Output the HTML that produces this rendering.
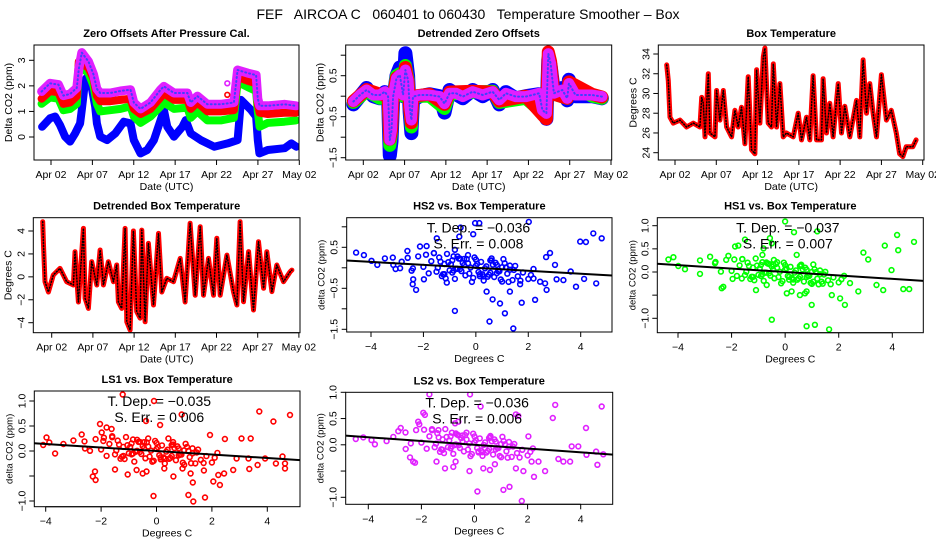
<!DOCTYPE html>
<html><head><meta charset="utf-8"><style>
html,body{margin:0;padding:0;background:#fff;}
svg{display:block;font-family:"Liberation Sans",sans-serif;}
</style></head><body>
<svg id="chart" width="936" height="540" viewBox="0 0 936 540" xmlns="http://www.w3.org/2000/svg">
<rect width="936" height="540" fill="#fff"/>
<text x="468" y="19" text-anchor="middle" font-size="14" style="white-space:pre">FEF   AIRCOA C   060401 to 060430   Temperature Smoother – Box</text>
</svg>
<script>
// ---------- data ----------
const dateTicks=[1,6,11,16,21,26,31];
const dateTickLabels=['Apr 02','Apr 07','Apr 12','Apr 17','Apr 22','Apr 27','May 02'];
const degTicks=[-4,-2,0,2,4];
const degTickLabels=['\u22124','\u22122','0','2','4'];

const zoHS2=[[-0.07,0.40],[0.88,0.73],[1.49,0.80],[2.09,0.47],[2.70,0.01],[3.31,-0.18],[3.91,0.14],[4.52,0.53],[4.72,1.06],[5.13,2.23],[5.53,2.42],[5.94,1.90],[6.34,1.19],[6.55,0.53],[6.95,0.01],[7.76,-0.12],[8.77,0.14],[9.79,0.60],[10.6,0.53],[11.0,-0.12],[11.81,-0.64],[12.62,-0.51],[13.43,-0.12],[14.24,0.66],[14.64,1.06],[15.05,0.40],[15.86,0.01],[16.87,0.40],[17.28,0.66],[17.88,0.14],[19.1,-0.12],[20.72,-0.38],[22.34,-0.25],[23.55,-0.12],[23.96,1.45],[25.17,1.06],[25.78,0.80],[25.98,-0.12],[26.18,-0.64],[27.2,-0.51],[29.22,-0.44],[30.03,-0.25],[30.64,-0.38]];
const zoHS1=[[-0.13,1.3],[0.88,1.55],[1.89,1.5],[2.5,1.05],[3.31,1.1],[4.12,1.3],[4.36,2.75],[4.72,2.7],[5.53,2.5],[6.14,2.0],[6.55,1.3],[6.95,1.0],[8.17,1.05],[9.38,1.1],[10.6,1.2],[11.0,0.8],[11.81,0.55],[13.02,0.8],[14.24,1.2],[14.64,1.35],[15.86,1.1],[17.48,1.15],[17.88,0.75],[18.69,1.0],[19.9,0.65],[21.5,0.65],[23.1,0.75],[23.55,2.15],[24.77,1.95],[25.78,1.8],[25.98,1.0],[26.2,0.4],[27.2,0.55],[29.2,0.6],[30.6,0.65]];
const zoLS1=[[-0.13,1.5],[0.88,1.8],[1.89,1.75],[2.5,1.3],[3.31,1.35],[4.12,1.6],[4.36,2.95],[4.72,2.9],[5.53,2.7],[6.14,2.3],[6.55,1.6],[6.95,1.4],[8.17,1.4],[9.38,1.45],[10.6,1.5],[11.0,1.1],[11.81,0.9],[13.02,1.1],[14.24,1.55],[14.64,1.7],[15.86,1.45],[17.48,1.45],[17.88,1.1],[18.69,1.35],[19.9,1.0],[21.5,1.0],[23.1,1.05],[23.55,2.35],[24.77,2.2],[25.78,2.1],[25.98,1.3],[26.2,0.95],[27.2,0.9],[29.2,0.95],[30.6,0.95]];
const zoLS2=[[-0.13,1.78],[0.88,2.1],[1.89,2.05],[2.5,1.62],[3.31,1.68],[4.12,1.92],[4.36,2.65],[4.72,3.3],[5.53,2.95],[6.14,2.45],[6.55,1.88],[6.95,1.72],[8.17,1.72],[9.38,1.8],[10.6,1.85],[11.0,1.35],[11.81,1.1],[13.02,1.35],[14.24,1.85],[14.64,1.98],[15.86,1.72],[17.48,1.72],[17.88,1.35],[18.69,1.6],[19.9,1.28],[21.5,1.28],[23.1,1.35],[23.55,2.62],[24.77,2.5],[25.78,2.42],[25.98,1.5],[26.2,1.22],[27.2,1.22],[29.2,1.28],[30.6,1.22]];
const zoOutLS2=[[22.3,2.1]];
const zoOutLS1=[[22.3,1.65]];

const dtHS2=[[-0.2,-0.2],[0.6,0.0],[1.4,0.2],[2.2,0.0],[3.0,-0.05],[3.6,0.1],[4.0,0.0],[4.13,-0.9],[4.21,-1.45],[4.41,-1.1],[4.61,-0.1],[5.02,0.5],[5.42,0.7],[5.82,0.0],[6.1,1.05],[6.42,0.5],[6.62,-0.4],[6.82,-0.9],[7.02,-0.1],[7.83,0.0],[9.03,0.05],[10.24,0.0],[10.84,-0.4],[11.44,0.15],[12.24,0.05],[13.05,-0.05],[14.25,0.15],[15.46,0.0],[16.66,0.15],[17.47,-0.2],[18.27,0.1],[19.47,-0.05],[20.68,0.0],[22.29,0.05],[22.69,-0.35],[23.17,-0.55],[23.41,0.9],[23.69,0.75],[24.09,0.1],[25.1,0.2],[25.7,-0.1],[25.9,0.4],[26.7,0.0],[28.7,0.0],[29.9,-0.05]];
const dtHS1=[[-0.2,-0.15],[1.4,0.12],[3.0,-0.05],[4.0,0.0],[4.13,-0.7],[4.21,-1.2],[4.41,-0.9],[4.61,0.0],[5.02,0.5],[5.42,0.55],[5.82,0.0],[6.1,0.75],[6.42,0.4],[6.62,-0.3],[6.82,-0.75],[7.02,0.0],[9.03,0.0],[10.84,-0.3],[11.44,0.05],[14.25,0.1],[16.66,0.12],[17.47,-0.15],[20.68,-0.05],[22.69,-0.4],[23.17,-0.45],[23.41,0.95],[23.69,0.55],[24.09,0.05],[25.7,-0.05],[25.9,0.3],[28.7,0.0],[29.9,-0.05]];
const dtLS1=[[-0.2,-0.12],[1.4,0.16],[3.0,0.05],[4.0,0.0],[4.13,-0.6],[4.21,-1.05],[4.41,-0.85],[4.61,0.0],[5.02,0.45],[5.42,0.5],[5.82,0.05],[6.1,0.7],[6.42,0.35],[6.62,-0.3],[6.82,-0.65],[7.02,0.0],[9.03,0.05],[10.84,-0.2],[11.44,0.1],[14.25,0.12],[16.66,0.1],[17.47,-0.12],[20.68,0.0],[22.69,-0.45],[23.17,-0.55],[23.41,1.08],[23.69,0.85],[24.09,0.05],[25.7,-0.05],[25.9,0.35],[28.7,0.05],[29.9,-0.02]];
const dtLS2=[[-0.2,-0.13],[0.6,0.03],[1.4,0.15],[2.2,0.03],[3.0,0.03],[3.6,0.11],[4.0,-0.01],[4.13,-0.58],[4.21,-1.07],[4.41,-0.83],[4.61,-0.01],[5.02,0.44],[5.42,0.52],[5.82,0.03],[6.1,0.64],[6.42,0.39],[6.62,-0.26],[6.82,-0.58],[7.02,-0.01],[7.83,0.03],[9.03,0.03],[10.24,-0.01],[10.84,-0.18],[11.44,0.07],[12.24,0.07],[13.05,-0.01],[14.25,0.11],[15.46,0.03],[16.66,0.11],[17.47,-0.09],[18.27,0.07],[19.47,-0.01],[20.68,-0.01],[22.29,0.07],[22.69,-0.34],[23.17,-0.42],[23.41,1.04],[23.69,0.80],[24.09,0.07],[25.1,0.15],[25.7,-0.05],[25.9,0.31],[26.7,0.03],[28.7,0.03],[29.9,-0.01]];

const boxTemp=[[-0.01,32.9],[0.19,31.3],[0.4,27.6],[0.8,27.0],[1.6,27.3],[2.41,26.6],[3.22,27.0],[4.02,26.6],[4.23,29.6],[4.43,29.0],[4.63,25.6],[5.03,32.0],[5.23,26.0],[5.84,25.6],[6.04,30.3],[6.44,27.3],[6.85,30.3],[7.25,26.6],[7.85,25.6],[8.26,28.3],[8.66,26.6],[9.06,28.6],[9.47,24.9],[9.87,31.7],[10.27,24.3],[10.68,23.9],[10.88,32.4],[11.28,27.0],[11.69,33.7],[11.89,34.6],[12.29,27.0],[12.69,26.6],[12.9,33.0],[13.3,26.6],[13.7,31.0],[14.1,25.6],[14.5,26.0],[15.31,25.6],[15.92,28.0],[16.32,25.3],[16.93,27.6],[17.33,25.3],[17.73,31.8],[18.14,25.3],[18.74,25.3],[18.94,31.5],[19.35,26.0],[19.75,29.0],[20.15,25.6],[20.76,31.0],[21.16,26.0],[21.56,28.7],[22.17,25.6],[22.98,29.3],[23.38,25.6],[23.78,33.4],[24.19,28.0],[24.59,31.0],[24.99,28.0],[25.4,25.6],[26.0,31.9],[26.6,27.3],[27.2,28.3],[27.8,26.0],[28.2,23.9],[28.6,23.6],[29.0,24.6],[29.8,24.6],[30.2,25.3]];
const boxTempDev=[[-0.09,4.81],[0.0,2.78],[0.19,-0.42],[0.6,-1.32],[1.2,0.16],[2.01,0.74],[2.82,-0.42],[3.63,-0.71],[3.83,2.19],[4.24,-2.19],[4.85,4.23],[5.05,-1.88],[5.45,-2.75],[5.86,1.32],[6.47,-0.71],[6.87,2.34],[7.28,-0.71],[7.88,1.32],[8.49,-0.42],[8.89,1.03],[9.1,-2.19],[9.5,-2.75],[9.91,4.23],[10.11,-3.92],[10.51,-4.64],[10.92,4.0],[11.32,-3.03],[11.73,-3.6],[11.93,4.08],[12.34,-3.92],[12.74,2.92],[13.35,-2.46],[13.96,3.79],[14.36,-1.32],[14.97,-0.13],[15.78,-0.42],[16.59,1.61],[17.19,-2.19],[17.8,4.67],[18.41,-1.6],[19.02,4.37],[19.42,-1.6],[20.03,1.61],[20.64,-1.6],[21.04,3.36],[21.45,-1.6],[22.26,1.9],[23.06,-1.3],[23.47,-2.46],[23.87,4.81],[24.28,-2.17],[24.89,2.2],[25.49,-2.89],[26.1,3.07],[26.71,-1.0],[27.11,2.19],[27.72,-1.29],[28.32,1.03],[29.13,-0.42],[29.94,0.45],[30.15,0.59]];

const tempCore=[-2.6,-2.4,-2.2,-2.0,-1.9,-1.8,-1.7,-1.6,-1.5,-1.4,-1.3,-1.2,-1.1,-1.0,-0.9,-0.8,-0.7,-0.6,-0.5,-0.4,-0.3,-0.2,-0.1,0.0,0.1,0.2,0.3,0.4,0.5,0.6,0.7,0.8,0.9,1.0,1.1,1.2,1.3,1.4,1.5,1.6,1.8,2.0,2.2,-1.25,-1.05,-0.85,-0.65,-0.45,-0.25,-0.05,0.15,0.35,0.55,0.75,0.95,1.15,-0.75,-0.35,0.25,0.65];
const coreHS2=[0.15,-0.1,0.2,-0.05,0.25,-0.2,0.1,0.3,-0.15,0.2,-0.25,0.05,0.3,-0.1,0.15,-0.3,0.25,-0.05,0.1,-0.2,0.3,0.0,-0.25,0.2,-0.1,0.15,-0.3,0.05,-0.15,0.25,-0.2,0.1,-0.05,-0.3,0.15,-0.1,0.0,-0.25,0.1,-0.15,-0.05,-0.2,0.05,-0.2,0.1,-0.1,0.2,0.05,-0.15,0.25,-0.2,0.0,-0.1,0.15,-0.25,0.05,-0.05,0.2,-0.15,0.1];
const coreHS1=[0.12,-0.08,0.18,-0.05,0.2,-0.15,0.08,0.22,-0.12,0.15,-0.2,0.05,0.25,-0.1,0.12,-0.22,0.18,-0.05,0.1,-0.15,0.2,0.0,-0.2,0.15,-0.08,0.12,-0.22,0.05,-0.12,0.18,-0.18,0.08,-0.05,-0.22,0.1,-0.1,0.0,-0.2,0.06,-0.12,-0.05,-0.15,0.0,-0.15,0.1,-0.08,0.16,0.04,-0.12,0.2,-0.16,0.0,-0.08,0.12,-0.2,0.04,-0.04,0.16,-0.12,0.08];
const coreLS1=[0.1,-0.08,0.16,-0.04,0.2,-0.16,0.08,0.24,-0.12,0.16,-0.2,0.04,0.24,-0.08,0.12,-0.24,0.2,-0.04,0.08,-0.16,0.24,0.0,-0.2,0.16,-0.08,0.12,-0.24,0.04,-0.12,0.2,-0.16,0.08,-0.04,-0.24,0.12,-0.08,0.0,-0.2,0.08,-0.12,-0.04,-0.16,0.04,-0.16,0.08,-0.08,0.16,0.04,-0.12,0.2,-0.16,0.0,-0.08,0.12,-0.2,0.04,-0.04,0.16,-0.12,0.08];
const coreLS2=[0.14,-0.06,0.2,-0.03,0.22,-0.14,0.1,0.24,-0.1,0.17,-0.18,0.06,0.26,-0.08,0.13,-0.2,0.19,-0.03,0.11,-0.14,0.22,0.02,-0.18,0.16,-0.06,0.13,-0.2,0.06,-0.1,0.19,-0.16,0.09,-0.03,-0.2,0.11,-0.08,0.01,-0.18,0.07,-0.1,-0.03,-0.13,0.01,-0.13,0.11,-0.06,0.17,0.05,-0.1,0.21,-0.14,0.01,-0.06,0.13,-0.18,0.05,-0.03,0.17,-0.1,0.09];

const tempCore2=[-1.45,-1.35,-1.15,-0.95,-0.85,-0.55,-0.45,-0.15,0.05,0.45,0.6,0.85,1.05,1.25,1.45,-1.6,-1.2,-0.9,-0.6,-0.3,0.0,0.3,0.55,0.8,1.0,1.3,1.7,2.1,-0.7,0.15];
const core2HS2=[-0.05,0.1,-0.3,0.05,0.25,-0.1,0.2,-0.35,0.1,-0.2,0.2,-0.05,0.25,-0.3,0.0,0.3,-0.2,-0.15,0.2,0.1,0.05,-0.2,0.2,-0.1,0.05,0.1,-0.25,-0.1,-0.05,-0.15];
const core2HS1=[-0.05,0.08,-0.22,0.04,0.18,-0.1,0.15,-0.25,0.08,-0.15,0.15,-0.05,0.2,-0.22,0.0,0.22,-0.15,-0.12,0.15,0.08,0.05,-0.15,0.15,-0.08,0.04,0.08,-0.2,-0.08,-0.04,-0.1];
const core2LS1=[-0.04,0.08,-0.2,0.05,0.2,-0.08,0.16,-0.22,0.08,-0.14,0.15,-0.04,0.18,-0.2,0.02,0.22,-0.14,-0.1,0.16,0.08,0.04,-0.14,0.14,-0.06,0.05,0.1,-0.18,-0.06,-0.02,-0.12];
const core2LS2=[-0.03,0.09,-0.2,0.05,0.2,-0.08,0.16,-0.22,0.09,-0.13,0.16,-0.03,0.19,-0.2,0.02,0.22,-0.14,-0.1,0.16,0.09,0.05,-0.13,0.15,-0.06,0.05,0.1,-0.18,-0.06,-0.02,-0.12];

const outHS2=[[-4.57,0.37],[-4.27,0.31],[-3.98,0.17],[-3.76,0.07],[-3.47,0.23],[-3.17,0.25],[-3.15,0.07],[-3.06,-0.03],[-2.89,-0.01],[-2.83,0.15],[-2.61,0.41],[-2.45,-0.07],[-2.39,-0.28],[-2.41,-0.40],[-2.28,-0.54],[-2.13,0.52],[-1.98,-0.28],[-1.88,0.53],[-1.49,0.72],[-1.11,-0.36],[-0.80,-1.05],[-0.80,0.44],[-0.63,0.76],[-0.58,0.98],[-0.10,0.82],[-0.03,1.09],[0.13,1.09],[0.52,-1.31],[0.41,-0.58],[0.64,-0.77],[0.92,-0.87],[1.11,-1.11],[1.30,-0.58],[1.43,-1.48],[1.75,-0.85],[2.02,1.12],[2.26,-0.78],[2.70,-0.54],[2.68,0.26],[2.83,0.36],[3.02,0.07],[3.34,-0.30],[3.62,-0.09],[3.98,0.64],[4.2,0.63],[4.48,0.84],[4.80,0.72],[4.59,-0.38],[4.13,-0.27],[3.82,-0.46],[3.08,-0.28],[2.64,-0.38],[2.45,-0.34],[2.20,-0.26],[1.69,-0.40]];
const outHS1=[[-4.36,0.27],[-4.17,0.32],[-3.99,0.13],[-3.74,0.06],[-3.18,0.25],[-3.18,-0.04],[-2.80,0.33],[-2.62,0.19],[-2.37,-0.35],[-2.31,-0.32],[-2.12,0.35],[-1.96,-0.15],[-1.87,0.55],[-1.75,0.57],[-1.62,-0.14],[-1.50,0.70],[-1.09,-0.39],[-0.85,0.37],[-0.81,0.51],[-0.69,-0.28],[-0.57,0.73],[-0.50,-1.03],[-0.42,0.26],[0.0,1.09],[0.06,-0.46],[0.24,-0.42],[0.33,0.86],[0.43,0.37],[0.55,-0.50],[0.74,-0.46],[0.80,-0.42],[0.99,-0.71],[1.05,-0.21],[1.20,0.88],[1.36,-0.21],[1.74,-0.50],[2.05,-0.57],[2.23,-0.71],[2.42,-0.24],[2.73,-0.42],[2.92,0.42],[3.10,0.27],[3.41,-0.28],[3.66,-0.39],[3.72,0.57],[3.97,0.04],[4.18,0.80],[4.22,0.47],[4.41,-0.37],[4.63,-0.37],[4.81,0.65],[0.80,-1.17],[1.11,-1.14],[1.64,-1.24],[-0.50,0.62]];
const outLS1=[[-4.09,0.12],[-3.97,0.27],[-3.87,0.17],[-3.66,-0.05],[-3.36,0.14],[-3.00,0.21],[-2.70,0.33],[-2.58,0.05],[-2.30,-0.51],[-2.22,-0.41],[-2.20,-0.58],[-2.04,0.54],[-1.98,0.37],[-1.92,0.20],[-1.80,0.47],[-1.62,0.44],[-1.50,-0.37],[-1.22,1.13],[-1.04,-0.47],[-0.72,-0.38],[-0.50,-0.45],[-0.38,0.60],[-0.36,-0.41],[-0.11,-0.90],[-0.09,1.00],[0.13,0.52],[0.28,-0.35],[0.43,0.25],[0.61,-0.51],[0.91,0.73],[0.94,-0.35],[1.15,-0.88],[1.23,-0.45],[1.31,-0.63],[1.33,-1.01],[1.71,-0.39],[1.75,-0.93],[1.93,0.32],[2.05,-0.61],[2.23,-0.48],[2.29,-0.68],[2.44,-0.45],[2.47,0.24],[2.77,-0.38],[2.89,-0.15],[3.07,0.25],[3.32,-0.15],[3.35,-0.36],[3.40,0.25],[3.65,-0.28],[3.71,0.79],[3.92,-0.15],[4.22,0.59],[4.31,-0.25],[4.64,-0.25],[4.64,-0.35],[4.82,0.72],[4.55,-0.11]];
const outLS2=[[-4.47,0.11],[-4.19,0.14],[-3.88,0.09],[-3.75,0.01],[-3.31,0.07],[-3.06,0.15],[-2.87,0.26],[-2.78,0.32],[-2.59,-0.08],[-2.43,-0.24],[-2.31,-0.32],[-2.24,-0.34],[-2.12,0.44],[-2.08,0.39],[-1.93,0.61],[-1.87,0.57],[-1.70,0.96],[-1.43,-0.32],[-1.36,0.28],[-1.11,-0.45],[-0.80,-0.42],[-0.71,-0.32],[-0.73,0.41],[-0.61,0.44],[-0.19,-0.50],[-0.17,0.96],[0.11,-0.89],[0.23,0.73],[0.33,-0.45],[0.58,-0.48],[0.77,-0.37],[1.09,-0.86],[1.32,-0.80],[1.56,-0.45],[1.84,-0.50],[1.78,-1.07],[2.03,0.16],[2.15,-0.32],[2.24,-0.61],[2.41,-0.32],[2.66,-0.50],[2.95,0.51],[3.04,0.76],[3.16,-0.27],[3.35,-0.32],[3.60,-0.32],[3.66,-0.03],[3.91,-0.03],[4.20,0.32],[4.22,-0.19],[4.58,-0.13],[4.63,-0.38],[4.79,0.73],[4.85,-0.18],[1.56,0.58],[1.65,0.55]];

const slopes=[-0.036,-0.037,-0.035,-0.036];
const slopeLabels=['T. Dep. = \u22120.036','T. Dep. = \u22120.037','T. Dep. = \u22120.035','T. Dep. = \u22120.036'];
const errLabels=['S. Err. = 0.008','S. Err. = 0.007','S. Err. = 0.006','S. Err. = 0.006'];

// ---------- layout ----------
const svg=document.getElementById('chart');
const NS='http://www.w3.org/2000/svg';
function el(tag,parent){const e=document.createElementNS(NS,tag);parent.appendChild(e);return e;}
function lin(a,pa,b,pb){return v=>pa+(v-a)*(pb-pa)/(b-a);}

const panels=[
 {name:'zero-offsets',title:'Zero Offsets After Pressure Cal.',box:[34,45,299,160],x:[1,51,31,299.3],y:[3,60.3,0,137],xt:dateTicks,xl:dateTickLabels,yt:[0,1,2,3],yl:['0','1','2','3'],xlab:'Date (UTC)',ylab:'Delta CO2 (ppm)'},
 {name:'detrended-zero-offsets',title:'Detrended Zero Offsets',box:[345.7,45,611.7,160],x:[1,363.3,31,611],y:[0.5,75.7,-0.5,116.7],xt:dateTicks,xl:dateTickLabels,yt:[-1.5,-1,-0.5,0,0.5,1],yl:['\u22121.5','','\u22120.5','','0.5',''],xlab:'Date (UTC)',ylab:'Delta CO2 (ppm)'},
 {name:'box-temperature',title:'Box Temperature',box:[658.3,45,924,160],x:[1,675,31,922.7],y:[34,54,24,152.7],xt:dateTicks,xl:dateTickLabels,yt:[24,26,28,30,32,34],yl:['24','26','28','30','32','34'],xlab:'Date (UTC)',ylab:'Degrees C'},
 {name:'detrended-box-temperature',title:'Detrended Box Temperature',box:[33.3,217.7,300,332.7],x:[1,51.7,26,257.7],y:[4,231,-4,322.7],xt:dateTicks,xl:dateTickLabels,yt:[-4,-2,0,2,4],yl:['\u22124','\u22122','0','2','4'],xlab:'Date (UTC)',ylab:'Degrees C'},
 {name:'hs2-vs-temp',title:'HS2 vs. Box Temperature',box:[346.7,217.7,612,332],x:[-4,371,4,580.7],y:[0.5,247.3,-0.5,288.3],xt:degTicks,xl:degTickLabels,yt:[-1.5,-1,-0.5,0,0.5,1],yl:['\u22121.5','','\u22120.5','','0.5',''],xlab:'Degrees C',ylab:'delta CO2 (ppm)'},
 {name:'hs1-vs-temp',title:'HS1 vs. Box Temperature',box:[657.3,217.7,923.3,332.7],x:[-4,678,4,892.3],y:[1,225.7,-1,318.3],xt:degTicks,xl:degTickLabels,yt:[-1,-0.5,0,0.5,1],yl:['\u22121.0','','0.0','0.5','1.0'],xlab:'Degrees C',ylab:'delta CO2 (ppm)'},
 {name:'ls1-vs-temp',title:'LS1 vs. Box Temperature',box:[34.3,391,300,506.7],x:[-4,45.7,4,267.3],y:[1,401,-1,501],xt:degTicks,xl:degTickLabels,yt:[-1,-0.5,0,0.5,1],yl:['\u22121.0','','0.0','0.5','1.0'],xlab:'Degrees C',ylab:'delta CO2 (ppm)'},
 {name:'ls2-vs-temp',title:'LS2 vs. Box Temperature',box:[345.7,392.3,612.7,504.3],x:[-4,368.3,4,580.7],y:[1,392.3,-1,497.3],xt:degTicks,xl:degTickLabels,yt:[-1,-0.5,0,0.5,1],yl:['\u22121.0','','0.0','0.5','1.0'],xlab:'Degrees C',ylab:'delta CO2 (ppm)'}
];

panels.forEach(p=>{
  const g=el('g',svg);
  
  
  p.g=g;
  p.fx=lin(p.x[0],p.x[1],p.x[2],p.x[3]);
  p.fy=lin(p.y[0],p.y[1],p.y[2],p.y[3]);
  const [l,t,r,b]=p.box;
  const clip=el('clipPath',g); clip.setAttribute('id','clip-'+p.name);
  const cr=el('rect',clip); cr.setAttribute('x',l); cr.setAttribute('y',t); cr.setAttribute('width',r-l); cr.setAttribute('height',b-t);
  p.plot=el('g',g);
  p.plot.setAttribute('clip-path','url(#clip-'+p.name+')');
  
  
  const tt=el('text',g);
  
  
  tt.setAttribute('x',(l+r)/2); tt.setAttribute('y',t-8); tt.setAttribute('text-anchor','middle');
  tt.setAttribute('font-size','11'); tt.setAttribute('font-weight','bold'); tt.textContent=p.title;
  const xa=el('g',g);
  
  
  const x0=p.fx(p.xt[0]), x1=p.fx(p.xt[p.xt.length-1]);
  const al=el('line',xa); al.setAttribute('x1',x0); al.setAttribute('x2',x1); al.setAttribute('y1',b); al.setAttribute('y2',b); al.setAttribute('stroke','#000');
  p.xt.forEach((v,i)=>{
    const X=p.fx(v);
    const tk=el('line',xa);
    
    
    tk.setAttribute('x1',X); tk.setAttribute('x2',X); tk.setAttribute('y1',b); tk.setAttribute('y2',b+5); tk.setAttribute('stroke','#000');
    const tl=el('text',xa);
    
    
    tl.setAttribute('x',X); tl.setAttribute('y',b+18); tl.setAttribute('text-anchor','middle'); tl.setAttribute('font-size','10.5');
    tl.textContent=p.xl[i];
  });
  const xt=el('text',xa);
  
  
  xt.setAttribute('x',(l+r)/2); xt.setAttribute('y',b+30); xt.setAttribute('text-anchor','middle'); xt.setAttribute('font-size','10.5');
  xt.textContent=p.xlab;
  const ya=el('g',g);
  
  
  p.yt.forEach((v,i)=>{
    const Y=p.fy(v);
    const tk=el('line',ya);
    
    
    tk.setAttribute('x1',l-5); tk.setAttribute('x2',l); tk.setAttribute('y1',Y); tk.setAttribute('y2',Y); tk.setAttribute('stroke','#000');
    if(p.yl[i]){
      const tl=el('text',ya);
      
      
      tl.setAttribute('transform','translate('+(l-9)+','+Y+') rotate(-90)');
      tl.setAttribute('text-anchor','middle'); tl.setAttribute('font-size','10.5');
      tl.textContent=p.yl[i];
    }
  });
  const yt=el('text',ya);
  
  
  yt.setAttribute('transform','translate('+(l-22)+','+((t+b)/2)+') rotate(-90)');
  yt.setAttribute('text-anchor','middle'); yt.setAttribute('font-size', p.ylab==='delta CO2 (ppm)'?'9.5':'10.5');
  yt.textContent=p.ylab;
  p.frame=[l,t,r,b];
});

function band(p,data,stroke,w,name,dash){
  const pl=el('polyline',p.plot);
  
  
  pl.setAttribute('points',data.map(d=>p.fx(d[0]).toFixed(1)+','+p.fy(d[1]).toFixed(1)).join(' '));
  pl.setAttribute('fill','none'); pl.setAttribute('stroke',stroke); pl.setAttribute('stroke-width',w);
  pl.setAttribute('stroke-linejoin','round'); pl.setAttribute('stroke-linecap','round');
  if(dash) pl.setAttribute('stroke-dasharray',dash);
}
function pts(p,data,stroke,name){
  data.forEach(d=>{
    const c=el('circle',p.plot);
    
    
    c.setAttribute('cx',p.fx(d[0]).toFixed(1)); c.setAttribute('cy',p.fy(d[1]).toFixed(1)); c.setAttribute('r','2.4');
    c.setAttribute('fill','none'); c.setAttribute('stroke',stroke); c.setAttribute('stroke-width','1.6');
  });
}
const MAG='#e020ff';

band(panels[0],zoHS2,'#0000ff',8,'hs2-series');
band(panels[0],zoHS1,'#00ff00',8,'hs1-series');
band(panels[0],zoLS1,'#ff0000',8,'ls1-series');
band(panels[0],zoLS2,MAG,9,'ls2-series');
band(panels[0],zoLS2,'#4040ff',2,'ls2-series-texture','1,3');
pts(panels[0],zoOutLS1,'#ff0000','ls1-point');
pts(panels[0],zoOutLS2,MAG,'ls2-point');

band(panels[1],dtHS2,'#0000ff',14,'hs2-detrended-series');
band(panels[1],dtHS1,'#00ff00',13,'hs1-detrended-series');
band(panels[1],dtLS1,'#ff0000',13,'ls1-detrended-series');
band(panels[1],dtLS2,MAG,11,'ls2-detrended-series');
band(panels[1],dtLS2,'#4040ff',2,'ls2-detrended-texture','1,3');

band(panels[2],boxTemp,'#ff0000',5,'box-temperature-series');
band(panels[2],boxTemp,'#000',1.5,'box-temperature-texture','1,2');
band(panels[3],boxTempDev,'#ff0000',5,'detrended-box-temperature-series');
band(panels[3],boxTempDev,'#000',1.5,'detrended-box-temperature-texture','1,2');

const scat=[[4,outHS2,coreHS2,core2HS2,'#0000ff','hs2'],[5,outHS1,coreHS1,core2HS1,'#00ff00','hs1'],[6,outLS1,coreLS1,core2LS1,'#ff0000','ls1'],[7,outLS2,coreLS2,core2LS2,MAG,'ls2']];
scat.forEach((s,k)=>{
  const p=panels[s[0]];
  const core=tempCore.map((x,i)=>[x,s[2][i]+slopes[k]*x]);
  const core2=tempCore2.map((x,i)=>[x,s[3][i]+slopes[k]*x]);
  pts(p,core,s[4],s[5]+'-point');
  pts(p,core2,s[4],s[5]+'-point');
  pts(p,s[1],s[4],s[5]+'-point');
  const ln=el('line',p.plot);
  
  
  const xa=-6, xb=6;
  ln.setAttribute('x1',p.fx(xa)); ln.setAttribute('y1',p.fy(slopes[k]*xa));
  ln.setAttribute('x2',p.fx(xb)); ln.setAttribute('y2',p.fy(slopes[k]*xb));
  ln.setAttribute('stroke','#000'); ln.setAttribute('stroke-width','2');
  const [l,t,r,b]=p.frame;
  const cx=p.fx(0.1);
  const t1=el('text',p.g);
  
  
  t1.setAttribute('x',cx); t1.setAttribute('y',t+15); t1.setAttribute('text-anchor','middle'); t1.setAttribute('font-size','14');
  t1.textContent=slopeLabels[k];
  const t2=el('text',p.g);
  
  
  t2.setAttribute('x',cx); t2.setAttribute('y',t+31); t2.setAttribute('text-anchor','middle'); t2.setAttribute('font-size','14');
  t2.textContent=errLabels[k];
});

panels.forEach(p=>{
  const [l,t,r,b]=p.frame;
  const fr=el('rect',p.g);
  
  
  fr.setAttribute('x',l); fr.setAttribute('y',t); fr.setAttribute('width',r-l); fr.setAttribute('height',b-t);
  fr.setAttribute('fill','none'); fr.setAttribute('stroke','#000'); fr.setAttribute('stroke-width','1');
});
</script>
</body></html>
